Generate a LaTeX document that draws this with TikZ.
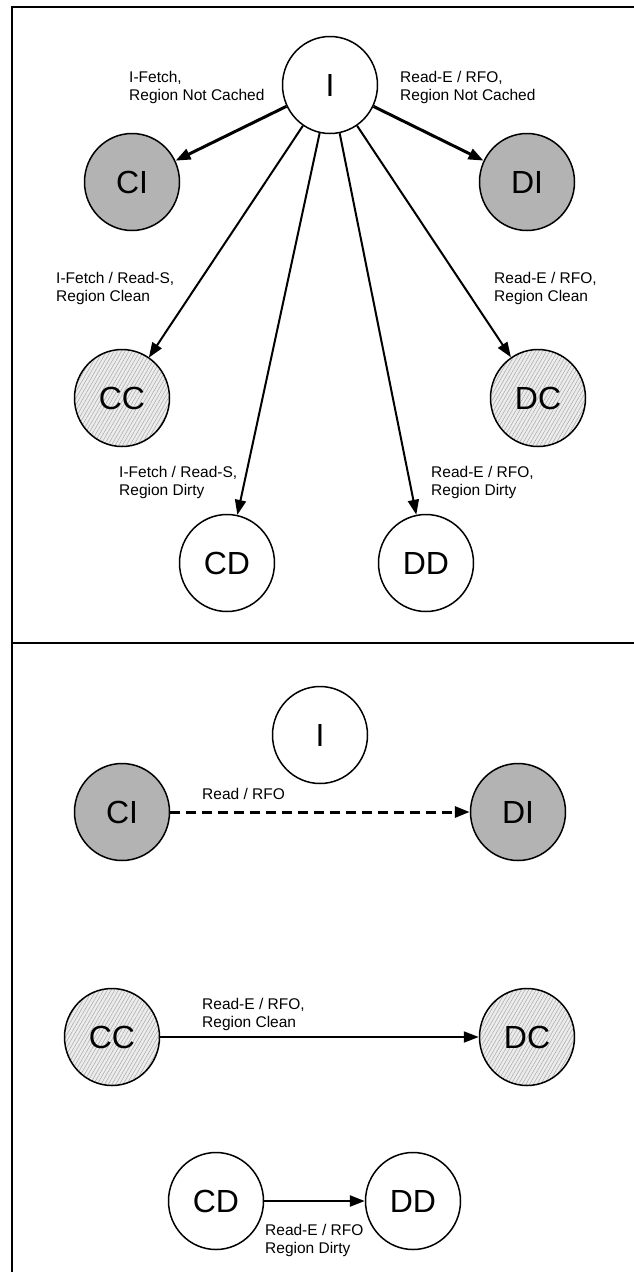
\documentclass[tikz,border=0pt]{standalone}
\usepackage{fontspec}
\setmainfont{Liberation Sans}
\usetikzlibrary{shapes.geometric,arrows.meta,patterns.meta}
\definecolor{cinv}{RGB}{179,179,179}
\definecolor{cbg}{RGB}{236,236,236}
\definecolor{chatch}{RGB}{168,168,168}
\tikzset{
  state/.style={ellipse,draw,line width=1.5pt,minimum width=95pt,minimum height=97pt,
    inner sep=0pt,font=\fontsize{32}{36}\selectfont},
  plain/.style={state,fill=white},
  inval/.style={state,fill=cinv},
  clean/.style={state,preaction={fill=cbg},
    pattern={Lines[angle=60,distance=3.2pt,line width=0.5pt]},pattern color=chatch},
  trans/.style={-{Triangle[length=15pt,width=11pt]},line width=2pt},
  lbl/.style={anchor=north west,align=left,inner sep=0pt,font=\fontsize{15.5}{18}\selectfont},
}

\begin{document}
\begin{tikzpicture}[x=1pt,y=-1pt]
  \useasboundingbox (0,0) rectangle (634,1272);
  % frame and divider
  \draw[line width=1.3pt] (12,1272) -- (12,7) -- (634,7);
  \draw[line width=1.3pt] (12,643) -- (634,643);

  % --- upper half: fills from I
  \node[plain] (tI)  at (330,85)  {I};
  \node[inval] (tCI) at (132,182) {CI};
  \node[inval] (tDI) at (527,182) {DI};
  \node[clean] (tCC) at (122,398) {CC};
  \node[clean] (tDC) at (538,398) {DC};
  \node[plain] (tCD) at (227,563) {CD};
  \node[plain] (tDD) at (426,563) {DD};

  \draw[trans,line width=3pt] (tI) -- (tCI);
  \draw[trans,line width=3pt] (tI) -- (tDI);
  \draw[trans] (tI) -- (tCC);
  \draw[trans] (tI) -- (tDC);
  \draw[trans] (tI) -- (tCD);
  \draw[trans] (tI) -- (tDD);

  \node[lbl] (l1) at (129,71)  {I-Fetch,\\Region Not Cached};
  \node[lbl] (l2) at (400,71)  {Read-E / RFO,\\Region Not Cached};
  \node[lbl] (l3) at (56,272)  {I-Fetch / Read-S,\\Region Clean};
  \node[lbl] (l4) at (494,272) {Read-E / RFO,\\Region Clean};
  \node[lbl] (l5) at (119,466) {I-Fetch / Read-S,\\Region Dirty};
  \node[lbl] (l6) at (431,466) {Read-E / RFO,\\Region Dirty};

  % --- lower half: upgrades
  \node[plain] (bI)  at (320,735)  {I};
  \node[inval] (bCI) at (122,812)  {CI};
  \node[inval] (bDI) at (518,812)  {DI};
  \node[clean] (bCC) at (112,1037) {CC};
  \node[clean] (bDC) at (527,1037) {DC};
  \node[plain] (bCD) at (216,1201) {CD};
  \node[plain] (bDD) at (413,1201) {DD};

  \draw[trans,line width=3pt,dash pattern=on 10pt off 6pt] (bCI) -- (bDI);
  \draw[trans] (bCC) -- (bDC);
  \draw[trans,line width=2.5pt] (bCD) -- (bDD);

  \node[lbl] (l7) at (202,788)  {Read / RFO};
  \node[lbl] (l8) at (202,998)  {Read-E / RFO,\\Region Clean};
  \node[lbl] (l9) at (265,1224) {Read-E / RFO\\Region Dirty};
\end{tikzpicture}
\end{document}
